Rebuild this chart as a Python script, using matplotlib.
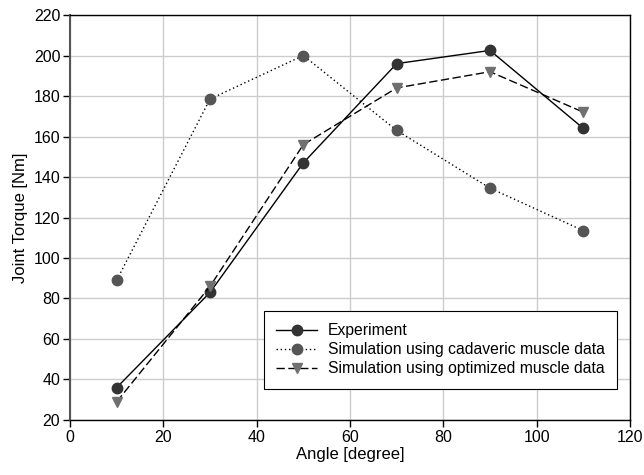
import matplotlib

matplotlib.use("Agg")
import matplotlib.pyplot as plt

plt.rcParams["font.family"] = ["Liberation Sans", "DejaVu Sans"]
plt.rcParams["font.size"] = 11.5

angles = [10, 30, 50, 70, 90, 110]
experiment = [36, 83, 147, 196, 202.5, 164]
cadaveric = [89, 178.5, 200, 163, 134.5, 113.5]
optimized = [29, 86, 156, 184, 192, 172]

fig = plt.figure(figsize=(6.44, 4.75), dpi=100)
ax = fig.add_axes([0.1087, 0.1158, 0.8696, 0.8526])

ax.plot(angles, experiment, color="black", linestyle="-", linewidth=1.0,
        marker="o", markersize=7.5, markerfacecolor="#333333",
        markeredgecolor="#333333", label="Experiment")
ax.plot(angles, cadaveric, color="black", linestyle=(0, (1, 2)), linewidth=1.0,
        marker="o", markersize=7.5, markerfacecolor="#555555",
        markeredgecolor="#555555", label="Simulation using cadaveric muscle data")
ax.plot(angles, optimized, color="black", linestyle=(0, (6, 2.5)), linewidth=1.0,
        marker="v", markersize=7.5, markerfacecolor="#707070",
        markeredgecolor="#707070", label="Simulation using optimized muscle data")

ax.set_xlim(0, 120)
ax.set_ylim(20, 220)
ax.set_xticks(range(0, 121, 20))
ax.set_yticks(range(20, 221, 20))
ax.grid(True, color="#cccccc", linewidth=1.0)
ax.set_axisbelow(True)
ax.tick_params(direction="out", length=5, width=1, labelsize=11.5, pad=2)
for s in ax.spines.values():
    s.set_linewidth(1.0)
ax.spines["left"].set_color("#555555")
ax.spines["left"].set_linewidth(1.5)

ax.set_xlabel("Angle [degree]", fontsize=12, labelpad=2)
ax.set_ylabel("Joint Torque [Nm]", fontsize=12, labelpad=4)

leg = ax.legend(loc="lower right", bbox_to_anchor=(0.9915, 0.058), fancybox=False,
                edgecolor="black", framealpha=1, fontsize=11.3, handlelength=2.6,
                handletextpad=0.7, borderpad=0.8, labelspacing=0.25)
leg.get_frame().set_linewidth(0.8)

fig.savefig("out.png", dpi=100)
